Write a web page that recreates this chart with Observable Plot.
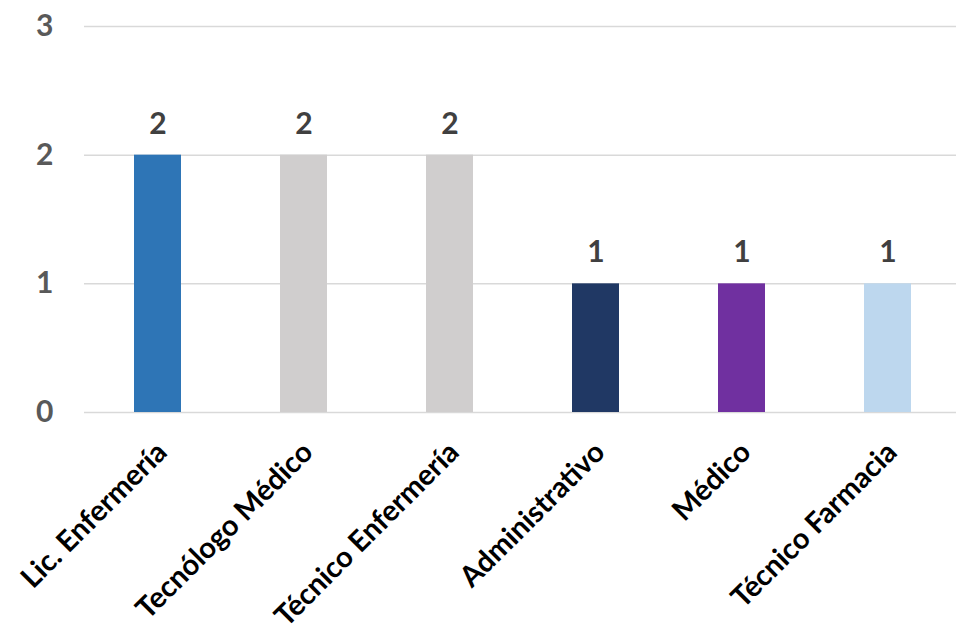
<!DOCTYPE html>
<html>
<head>
<meta charset="utf-8">
<script src="https://cdn.jsdelivr.net/npm/d3@7"></script>
<script src="https://cdn.jsdelivr.net/npm/@observablehq/plot@0.6"></script>
<style>
  html, body { margin: 0; padding: 0; background: #fff; overflow: hidden; }
  #chart svg { display: block; }
</style>
</head>
<body>
<div id="chart"></div>
<script>
const categories = ["Lic. Enfermería", "Tecnólogo Médico", "Técnico Enfermería", "Administrativo", "Médico", "Técnico Farmacia"];
const values = [2, 2, 2, 1, 1, 1];
const colors = ["#2E75B6", "#D0CECE", "#D0CECE", "#203864", "#7030A0", "#BDD7EE"];
const yTicks = [0, 1, 2, 3];

const data = categories.map((c, i) => ({cat: c, value: values[i], color: colors[i]}));

const font = "Lato, 'Open Sans', sans-serif";

const chart = Plot.plot({
  width: 956,
  height: 632,
  marginLeft: 84,
  marginRight: 0,
  marginTop: 26,
  marginBottom: 220,
  style: {fontFamily: font, fontWeight: "bold", fontSize: "29px", background: "#fff"},
  x: {domain: categories, range: [82, 963], paddingInner: 0.68, paddingOuter: 0.34, axis: null},
  y: {domain: [0, 3], axis: null},
  marks: [
    Plot.ruleY(yTicks, {stroke: "#D9D9D9", strokeWidth: 1.5}),
    Plot.barY(data, {x: "cat", y: "value", fill: d => d.color}),
    Plot.text(data, {x: "cat", y: "value", text: d => String(d.value), dy: -31, fill: "#404040", fontSize: 30, fontWeight: "bold"}),
    Plot.text(yTicks, {x: null, y: d => d, text: d => String(d), frameAnchor: "left", dx: -31, textAnchor: "end", fill: "#595959", fontSize: 30, fontWeight: "bold"}),
    Plot.text(data, {x: "cat", y: 0, text: "cat", rotate: -45, textAnchor: "end", dx: 4, dy: 35, fill: "#000", fontSize: 29, fontWeight: "bold"})
  ]
});
document.getElementById("chart").appendChild(chart);
</script>
</body>
</html>
